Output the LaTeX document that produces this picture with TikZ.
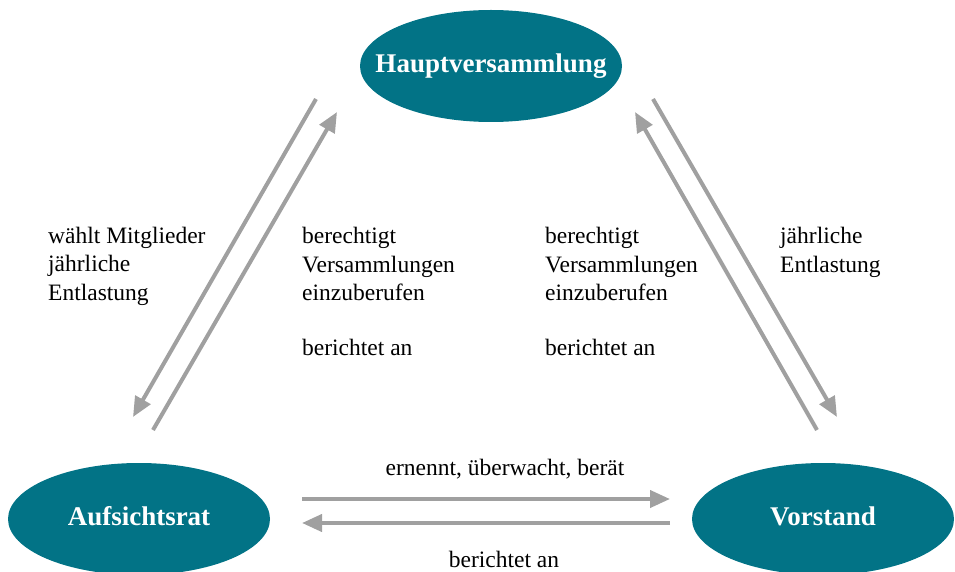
\documentclass[tikz,border=0pt]{standalone}
\usepackage{fontspec}
\setmainfont{Liberation Serif}
\usetikzlibrary{arrows.meta,shapes.geometric}
\definecolor{organfarbe}{RGB}{2,115,134}
\definecolor{pfeilfarbe}{RGB}{160,160,160}
\tikzset{
  organ/.style={shape=ellipse, fill=organfarbe, text=white, inner xsep=-25pt, inner ysep=0pt,
    minimum width=262pt, minimum height=112pt, text height=18.5pt, text depth=6pt,
    font=\fontsize{27}{30}\selectfont\bfseries},
  pfeil/.style={draw=pfeilfarbe, line width=4pt, -{Triangle[length=20pt,width=17pt]}},
  beschriftung/.style={inner sep=0pt, align=left, font=\fontsize{23.5}{28.5}\selectfont}
}
\begin{document}
\begin{tikzpicture}[x=1pt, y=-1pt]
    \useasboundingbox (0,0) rectangle (955,572);

    \node[organ] (HV) at (491,66) {Hauptversammlung};
    \node[organ] (AR) at (139,519) {Aufsichtsrat};
    \node[organ] (VS) at (823,519) {Vorstand};

    \coordinate (HVlinks1) at (316,99);
    \coordinate (ARoben1) at (133,417);
    \coordinate (ARoben2) at (153,430);
    \coordinate (HVlinks2) at (337,112);
    \coordinate (HVrechts1) at (653,99);
    \coordinate (VSoben1) at (837,417);
    \coordinate (VSoben2) at (817,430);
    \coordinate (HVrechts2) at (635,112);
    \coordinate (ARrechts1) at (302,499);
    \coordinate (VSlinks1) at (670,499);
    \coordinate (VSlinks2) at (670,523);
    \coordinate (ARrechts2) at (302,523);

    \draw [pfeil] (HVlinks1) -- (ARoben1);
    \draw [pfeil] (ARoben2) -- (HVlinks2);
    \draw [pfeil] (HVrechts1) -- (VSoben1);
    \draw [pfeil] (VSoben2) -- (HVrechts2);
    \draw [pfeil] (ARrechts1) -- (VSlinks1);
    \draw [pfeil] (VSlinks2) -- (ARrechts2);

    \node[beschriftung, anchor=base west] (waehlt) at (48,300) {wählt Mitglieder\\jährliche\\Entlastung};
    \node[beschriftung, anchor=base west] (berechtigtAR) at (302,355) {berechtigt\\Versammlungen\\einzuberufen\\[26pt]berichtet an};
    \node[beschriftung, anchor=base west] (berechtigtVS) at (545,355) {berechtigt\\Versammlungen\\einzuberufen\\[26pt]berichtet an};
    \node[beschriftung, anchor=base west] (entlastung) at (780,272) {jährliche\\Entlastung};
    \node[beschriftung, anchor=base] (ernennt) at (505,475) {ernennt, überwacht, berät};
    \node[beschriftung, anchor=base] (berichtet) at (504,567) {berichtet an};
\end{tikzpicture}
\end{document}
